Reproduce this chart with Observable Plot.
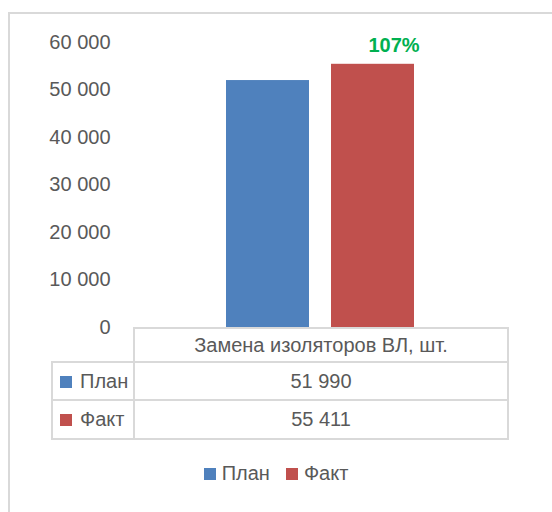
<!DOCTYPE html>
<html><head><meta charset="utf-8">
<script src="https://cdn.jsdelivr.net/npm/d3@7"></script>
<script src="https://cdn.jsdelivr.net/npm/@observablehq/plot@0.6"></script>
<style>
body{margin:0;background:#fff;font-family:"Liberation Sans",Arial,sans-serif;}
#wrap{position:relative;width:552px;height:512px;overflow:hidden;background:#fff;}
#frame{position:absolute;left:8px;top:12px;width:600px;height:600px;border-left:2px solid #d9d9d9;border-top:2px solid #d9d9d9;}
#chart{position:absolute;left:0;top:0;}
#tbl{position:absolute;left:51px;top:327px;border-collapse:collapse;table-layout:fixed;color:#595959;font-size:20px;}
#tbl td{border:2px solid #d9d9d9;padding:0;white-space:nowrap;}
#tbl td.blank{border-top:none;border-left:none;}
#tbl td.val{text-align:center;}
#tbl td.lab{padding-left:7px;}
.sw{display:inline-block;width:12px;height:12px;margin-right:8px;vertical-align:0px;}
#legend{position:absolute;left:0;top:462px;width:552px;text-align:center;color:#595959;font-size:20px;}
#legend span.item{margin:0 8px;}
</style>
</head><body>
<div id="wrap">
  <div id="frame"></div>
  <div id="chart"></div>
  <table id="tbl"></table>
  <div id="legend"></div>
</div>
<script>
const category = "Замена изоляторов ВЛ, шт.";
const series = ["План", "Факт"];
const values = [51990, 55411];
const colors = ["#4f81bd", "#c0504d"];
const yTicks = [0, 10000, 20000, 30000, 40000, 50000, 60000];

const locale = d3.formatLocale({decimal: ",", thousands: "\u00a0", grouping: [3], currency: ["", ""]});
const fmt = locale.format(",d");

const data = series.map((s, i) => ({series: s, value: values[i], color: colors[i]}));
const pct = Math.round(values[1] / values[0] * 100) + "%";

const chart = Plot.plot({
  width: 552,
  height: 340,
  marginTop: 42,
  marginBottom: 13,
  marginLeft: 133,
  marginRight: 45,
  style: {fontFamily: "Liberation Sans, Arial, sans-serif", fontSize: "20px", color: "#595959", background: "transparent", overflow: "visible"},
  x: {domain: series, paddingInner: 0.21, paddingOuter: 0.87, axis: null},
  y: {domain: [0, 60000], ticks: yTicks, tickFormat: fmt, tickSize: 0, tickPadding: 23, label: null},
  marks: [
    Plot.barY(data, {x: "series", y: "value", fill: d => d.color}),
    Plot.text([data[1]], {x: "series", y: "value", text: () => pct, fill: "#00b050", fontWeight: "bold", fontSize: 20, dx: 21, dy: -19})
  ]
});
document.getElementById("chart").appendChild(chart);

// data table
const tbl = document.getElementById("tbl");
let html = `<colgroup><col style="width:82px"><col style="width:374px"></colgroup>`;
html += `<tr style="height:34px"><td class="blank"></td><td class="val">${category}</td></tr>`;
data.forEach((d, i) => {
  html += `<tr style="height:${i === 0 ? 38 : 39}px"><td class="lab"><span class="sw" style="background:${d.color}"></span>${d.series}</td><td class="val">${fmt(d.value)}</td></tr>`;
});
tbl.innerHTML = html;

// legend
document.getElementById("legend").innerHTML = data.map(d =>
  `<span class="item"><span class="sw" style="background:${d.color};margin-right:6px"></span>${d.series}</span>`).join("");
</script>
</body></html>
